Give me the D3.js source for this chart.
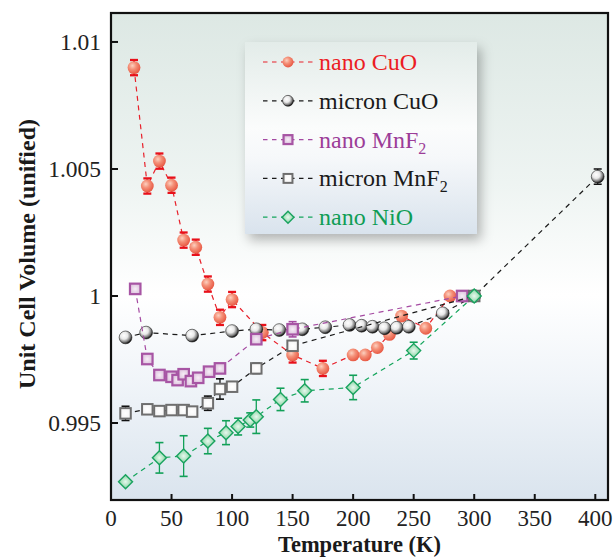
<!DOCTYPE html>
<html><head><meta charset="utf-8">
<script src="https://cdn.jsdelivr.net/npm/d3@7"></script>
<style>html,body{margin:0;padding:0;background:#fff;}svg{display:block;}</style>
</head><body>
<script>
// ---- data ----
const nanoCuO_T   = [19, 30, 40, 50, 60, 70, 80, 90, 100, 125, 150, 175, 200, 210, 220, 230, 240, 260, 280];
const nanoCuO_V   = [1.00899, 1.00433, 1.00531, 1.00436, 1.0022, 1.00192, 1.00047, 0.99916, 0.99986, 0.99856, 0.99768, 0.99715, 0.99768, 0.99768, 0.99797, 0.99849, 0.99921, 0.99873, 1.0];
const nanoCuO_E   = [0.0003, 0.0003, 0.0003, 0.0003, 0.0003, 0.0003, 0.0003, 0.0003, 0.0003, 0.0003, 0.0003, 0.0003, 0, 0, 0, 0, 0, 0, 0];

const micronCuO_T = [12, 29, 67, 100, 120, 139, 158, 177, 197, 207, 216, 226, 236, 246, 274, 300, 402];
const micronCuO_V = [0.99837, 0.99856, 0.99844, 0.99862, 0.99869, 0.99866, 0.99869, 0.99877, 0.99886, 0.99883, 0.99879, 0.99873, 0.99875, 0.99879, 0.99932, 1.0, 1.0047];
const micronCuO_E = [0, 0, 0, 0, 0, 0, 0, 0, 0, 0, 0, 0, 0, 0, 0, 0, 0.0003];

const nanoMnF2_T  = [20, 30, 40, 50, 55, 60, 66, 72, 81, 90, 120, 150, 290];
const nanoMnF2_V  = [1.00028, 0.99752, 0.99689, 0.99682, 0.99669, 0.99692, 0.99665, 0.99678, 0.99702, 0.99715, 0.9983, 0.99869, 1.0];
const nanoMnF2_E  = [0, 0, 0, 0, 0, 0, 0, 0, 0, 0, 0, 0.0003, 0];

const micronMnF2_T = [12, 30, 40, 50, 60, 67, 80, 90, 100, 120, 150, 300];
const micronMnF2_V = [0.99538, 0.99554, 0.99547, 0.99551, 0.99551, 0.99545, 0.99578, 0.99634, 0.99643, 0.99715, 0.99804, 1.0];
const micronMnF2_E = [0.00028, 0, 0, 0, 0, 0, 0.00028, 0.0004, 0, 0.0002, 0.0002, 0];

const nanoNiO_T   = [12, 40, 60, 80, 95, 105, 115, 120, 140, 160, 200, 250, 300];
const nanoNiO_V   = [0.99269, 0.99363, 0.9937, 0.99429, 0.99462, 0.99486, 0.99512, 0.99525, 0.99593, 0.99627, 0.9964, 0.99785, 1.0];
const nanoNiO_E   = [0, 0.0006, 0.0008, 0.0005, 0.00047, 0.00033, 0.00028, 0.00066, 0.00044, 0.00044, 0.00048, 0.00033, 0];

const xTicks = [0, 50, 100, 150, 200, 250, 300, 350, 400];
const yTicks = [0.995, 1, 1.005, 1.01];
const yTickLabels = ["0.995", "1", "1.005", "1.01"];
const seriesNames = ["nano CuO", "micron CuO", "nano MnF", "micron MnF", "nano NiO"];
const xTitle = "Temperature (K)";
const yTitle = "Unit Cell Volume (unified)";

// ---- layout ----
const W = 615, H = 557;
const L = 111, R = 608, T = 13, B = 500;
const font = "'Liberation Serif','Times New Roman',serif";

const svg = d3.select("body").append("svg").attr("width", W).attr("height", H);
const defs = svg.append("defs");

const x = d3.scaleLinear().domain([0, 410.5]).range([L, R]);
const y = d3.scaleLinear().domain([0.99197, 1.01114]).range([B, T]);

// background gradient
const bg = defs.append("linearGradient").attr("id", "bg").attr("x1", 0).attr("y1", 0).attr("x2", 0).attr("y2", 1);
[[0, "#dde8e4"], [0.35, "#eef4f2"], [0.58, "#ffffff"], [0.75, "#f1f5f9"], [1, "#dae4ee"]].forEach(s => bg.append("stop").attr("offset", s[0]).attr("stop-color", s[1]));
const lg = defs.append("linearGradient").attr("id", "lg").attr("x1", 0).attr("y1", 0).attr("x2", 0).attr("y2", 1);
[[0, "#e3ece9"], [0.45, "#fbfcfc"], [0.6, "#f6f8fa"], [1, "#d9e3ed"]].forEach(s => lg.append("stop").attr("offset", s[0]).attr("stop-color", s[1]));
const sh = defs.append("filter").attr("id", "shadow").attr("x", "-20%").attr("y", "-20%").attr("width", "150%").attr("height", "150%");
sh.append("feDropShadow").attr("dx", 4).attr("dy", 6).attr("stdDeviation", 6).attr("flood-color", "#000").attr("flood-opacity", 0.28);

function radial(id, stops, cx, cy) {
  const g = defs.append("radialGradient").attr("id", id).attr("cx", cx || "38%").attr("cy", cy || "35%").attr("r", "65%");
  stops.forEach(s => g.append("stop").attr("offset", s[0]).attr("stop-color", s[1]));
}
radial("gRed", [[0, "#fcd0bf"], [0.45, "#f49078"], [1, "#e85a45"]]);
radial("gBlk", [[0, "#ffffff"], [0.45, "#e8e8e8"], [0.8, "#777"], [1, "#111"]]);
radial("gPur", [[0, "#f6eef6"], [1, "#d8b8d8"]], "50%", "50%");
radial("gWht", [[0, "#ffffff"], [1, "#f2f2f2"]], "50%", "50%");
radial("gGrn", [[0, "#e8f8ee"], [0.5, "#a8e0bc"], [1, "#3cb070"]], "50%", "50%");

svg.append("rect").attr("x", L).attr("y", T).attr("width", R - L).attr("height", B - T).attr("fill", "url(#bg)");

const series = [
  {name: seriesNames[0], T: nanoCuO_T, V: nanoCuO_V, E: nanoCuO_E, line: "#e8202a", err: "#e8101a", text: "#ec1c24", shape: "circle", fill: "url(#gRed)", stroke: "none", sw: 0, ew: 2},
  {name: seriesNames[1], T: micronCuO_T, V: micronCuO_V, E: micronCuO_E, line: "#1a1a1a", err: "#111", text: "#1a1a1a", shape: "circle", fill: "url(#gBlk)", stroke: "#222", sw: 0.6, ew: 1.2},
  {name: seriesNames[2], T: nanoMnF2_T, V: nanoMnF2_V, E: nanoMnF2_E, line: "#a54aa2", err: "#a54aa2", text: "#9c3d98", shape: "square", fill: "url(#gPur)", stroke: "#a755a4", sw: 2.2, ew: 1.3, sub: "2"},
  {name: seriesNames[3], T: micronMnF2_T, V: micronMnF2_V, E: micronMnF2_E, line: "#1a1a1a", err: "#111", text: "#1a1a1a", shape: "square", fill: "url(#gWht)", stroke: "#6e6e6e", sw: 2, ew: 1.3, sub: "2"},
  {name: seriesNames[4], T: nanoNiO_T, V: nanoNiO_V, E: nanoNiO_E, line: "#14a55c", err: "#12a058", text: "#0f9d55", shape: "diamond", fill: "url(#gGrn)", stroke: "#1aa35f", sw: 1.4, ew: 1.3}
];

function drawMarker(g, s, cx, cy, scale) {
  const k = scale || 1;
  if (s.shape === "circle") {
    g.append("circle").attr("cx", cx).attr("cy", cy).attr("r", 6.4 * k).attr("fill", s.fill).attr("stroke", s.stroke).attr("stroke-width", s.sw);
  } else if (s.shape === "square") {
    const a = 10.5 * k;
    g.append("rect").attr("x", cx - a / 2).attr("y", cy - a / 2).attr("width", a).attr("height", a).attr("fill", s.fill).attr("stroke", s.stroke).attr("stroke-width", s.sw);
  } else {
    const a = 7 * k;
    g.append("path").attr("d", `M${cx},${cy - a}L${cx + a},${cy}L${cx},${cy + a}L${cx - a},${cy}Z`).attr("fill", s.fill).attr("stroke", s.stroke).attr("stroke-width", s.sw);
  }
}

const plot = svg.append("g");
series.forEach(s => {
  const pts = s.T.map((t, i) => ({t, v: s.V[i], e: s.E[i]}));
  const g = plot.append("g");
  g.append("path").attr("d", d3.line().x(d => x(d.t)).y(d => y(d.v))(pts))
    .attr("fill", "none").attr("stroke", s.line).attr("stroke-width", 1.2).attr("stroke-dasharray", "5,4.5");
  pts.filter(d => d.e > 0).forEach(d => {
    const cx = x(d.t), y1 = y(d.v + d.e), y2 = y(d.v - d.e);
    g.append("line").attr("x1", cx).attr("x2", cx).attr("y1", y1).attr("y2", y2).attr("stroke", s.err).attr("stroke-width", s.ew);
    [y1, y2].forEach(yy => g.append("line").attr("x1", cx - 4).attr("x2", cx + 4).attr("y1", yy).attr("y2", yy).attr("stroke", s.err).attr("stroke-width", s.ew + 0.3));
  });
  pts.forEach(d => drawMarker(g, s, x(d.t), y(d.v)));
});

// frame and ticks
svg.append("rect").attr("x", L).attr("y", T).attr("width", R - L).attr("height", B - T).attr("fill", "none").attr("stroke", "#111").attr("stroke-width", 2.2);
const ax = svg.append("g");
xTicks.forEach(t => {
  ax.append("line").attr("x1", x(t)).attr("x2", x(t)).attr("y1", B).attr("y2", B - 6).attr("stroke", "#111").attr("stroke-width", 2);
  ax.append("text").attr("x", x(t)).attr("y", B + 26).attr("text-anchor", "middle").attr("font-family", font).attr("font-size", 23).attr("fill", "#222").text(t);
});
yTicks.forEach((t, i) => {
  ax.append("line").attr("x1", L).attr("x2", L + 7).attr("y1", y(t)).attr("y2", y(t)).attr("stroke", "#111").attr("stroke-width", 2);
  ax.append("text").attr("x", L - 10).attr("y", y(t) + 8).attr("text-anchor", "end").attr("font-family", font).attr("font-size", 23.5).attr("fill", "#222").text(yTickLabels[i]);
});
svg.append("text").attr("x", (L + R) / 2).attr("y", 552).attr("text-anchor", "middle").attr("font-family", font).attr("font-weight", "bold").attr("font-size", 22.5).attr("fill", "#1a1a1a").text(xTitle);
svg.append("text").attr("transform", `translate(35,254) rotate(-90)`).attr("text-anchor", "middle").attr("font-family", font).attr("font-weight", "bold").attr("font-size", 24).attr("fill", "#1a1a1a").text(yTitle);

// legend
const lx = 245, ly = 42, lw = 232, lh = 192;
const leg = svg.append("g");
leg.append("rect").attr("x", lx).attr("y", ly).attr("width", lw).attr("height", lh).attr("fill", "url(#lg)").attr("filter", "url(#shadow)");
series.forEach((s, i) => {
  const cy = 62 + i * 38.8;
  leg.append("line").attr("x1", 263).attr("x2", 313).attr("y1", cy).attr("y2", cy).attr("stroke", s.line).attr("stroke-width", 1.2).attr("stroke-dasharray", "4.5,4.5");
  drawMarker(leg, s, 288, cy, 0.85);
  const t = leg.append("text").attr("x", 319).attr("y", cy + 8).attr("font-family", font).attr("font-size", 24).attr("fill", s.text).text(s.name);
  if (s.sub) t.append("tspan").attr("font-size", 16).attr("dy", 6).text(s.sub);
});
</script>
</body></html>
